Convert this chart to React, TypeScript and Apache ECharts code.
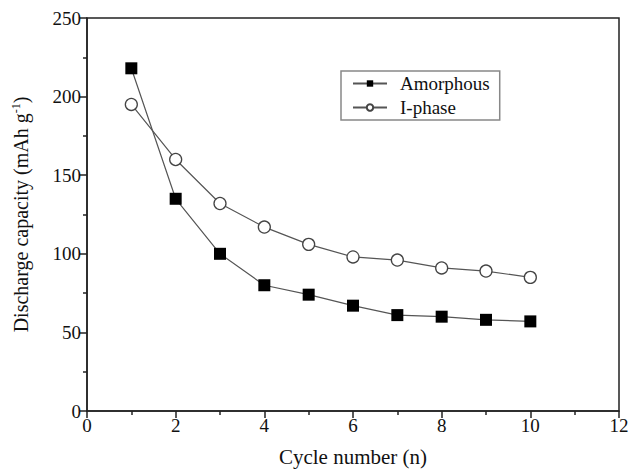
import React, { useEffect, useRef } from "react";
import * as echarts from "echarts";

const cycles = [1, 2, 3, 4, 5, 6, 7, 8, 9, 10];
const amorphous = [218, 135, 100, 80, 74, 67, 61, 60, 58, 57];
const iphase = [195, 160, 132, 117, 106, 98, 96, 91, 89, 85];
const seriesNames = ["Amorphous", "I-phase"];

const FONT = "'Liberation Serif', 'Times New Roman', serif";

export default function App() {
  const ref = useRef<HTMLDivElement>(null);
  useEffect(() => {
    if (!ref.current) return;
    const chart = echarts.init(ref.current, undefined, { renderer: "svg" });
    chart.setOption({
      animation: false,
      backgroundColor: "#fff",
      textStyle: { fontFamily: FONT },
      grid: {
        left: 87,
        right: 11,
        top: 18,
        bottom: 59,
        outerBoundsMode: "none",
        containLabel: false,
        show: true,
        borderColor: "#222",
        borderWidth: 1.5,
        backgroundColor: "transparent",
      },
      legend: {
        orient: "vertical",
        left: 341,
        top: 71,
        borderColor: "#888",
        borderWidth: 1.5,
        padding: [3, 10, 3, 11],
        itemWidth: 34,
        itemHeight: 8,
        itemGap: 5,
        textStyle: { fontFamily: FONT, fontSize: 19, color: "#111", padding: [0, 0, 0, 8] },
        data: seriesNames,
      },
      xAxis: {
        type: "value",
        min: 0,
        max: 12,
        interval: 2,
        name: "Cycle number (n)",
        nameLocation: "middle",
        nameGap: 35,
        nameTextStyle: { fontFamily: FONT, fontSize: 21, color: "#111" },
        axisLine: { show: true, lineStyle: { color: "#222", width: 1.5 } },
        axisTick: { show: true, inside: false, length: 7, lineStyle: { color: "#222", width: 1.5 } },
        minorTick: { show: true, splitNumber: 2, length: 4, lineStyle: { color: "#222", width: 1.5 } },
        axisLabel: { fontFamily: FONT, fontSize: 19, color: "#111", margin: 5 },
        splitLine: { show: false },
      },
      yAxis: {
        type: "value",
        min: 0,
        max: 250,
        interval: 50,
        name: "{a|Discharge capacity (mAh g}{s|-1}{a|)}",
        nameLocation: "middle",
        nameGap: 56,
        nameRotate: 90,
        nameTextStyle: {
          fontFamily: FONT,
          fontSize: 20,
          color: "#111",
          rich: {
            a: { fontFamily: FONT, fontSize: 20, color: "#111" },
            s: { fontFamily: FONT, fontSize: 12, color: "#111", verticalAlign: "top", padding: [0, 0, 9, 0] },
          },
        },
        axisLine: { show: true, lineStyle: { color: "#222", width: 1.5 } },
        axisTick: { show: true, inside: false, length: 7, lineStyle: { color: "#222", width: 1.5 } },
        minorTick: { show: true, splitNumber: 2, length: 4, lineStyle: { color: "#222", width: 1.5 } },
        axisLabel: { fontFamily: FONT, fontSize: 19, color: "#111", margin: 6 },
        splitLine: { show: false },
      },
      series: [
        {
          name: seriesNames[0],
          type: "line",
          data: cycles.map((c, i) => [c, amorphous[i]]),
          symbol: "rect",
          symbolSize: 12,
          itemStyle: { color: "#000", borderColor: "#000", borderWidth: 0 },
          lineStyle: { color: "#555", width: 1.2 },
          z: 3,
        },
        {
          name: seriesNames[1],
          type: "line",
          data: cycles.map((c, i) => [c, iphase[i]]),
          symbol: "circle",
          symbolSize: 12,
          itemStyle: { color: "#fff", borderColor: "#444", borderWidth: 1.3 },
          lineStyle: { color: "#555", width: 1.2 },
          z: 2,
        },
      ],
    });
    return () => chart.dispose();
  }, []);
  return <div ref={ref} style={{ width: 630, height: 470, position: "absolute", left: 0, top: 0 }} />;
}
